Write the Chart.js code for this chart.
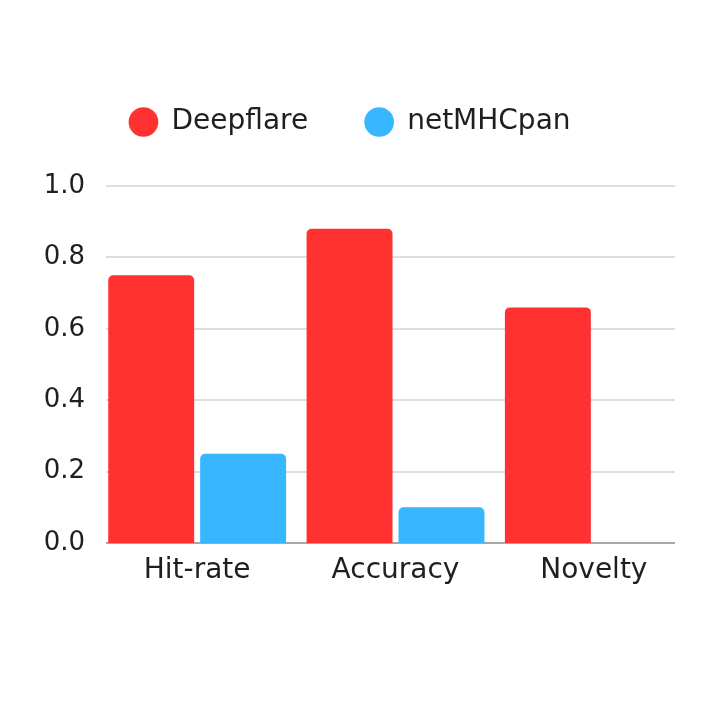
<!DOCTYPE html>
<html>
<head>
<meta charset="utf-8">
<script src="https://cdn.jsdelivr.net/npm/chart.js@4/dist/chart.umd.min.js"></script>
<style>
html,body{margin:0;padding:0;background:#fff;}
#wrap{width:716px;height:716px;}
</style>
</head>
<body>
<div id="wrap"><canvas id="c" width="716" height="716"></canvas></div>
<script>
const categories = ["Hit-rate", "Accuracy", "Novelty"];
const seriesNames = ["Deepflare", "netMHCpan"];
const deepflareValues = [0.75, 0.88, 0.66];
const netmhcpanValues = [0.25, 0.10, 0];
const yTicks = [0, 0.2, 0.4, 0.6, 0.8, 1.0];

const FONT = "'DejaVu Sans', sans-serif";
const TEXT = "#1f1f1f";

const gridPlugin = {
  id: 'customGrid',
  beforeDatasetsDraw(chart) {
    const ctx = chart.ctx, y = chart.scales.y, a = chart.chartArea;
    const x0 = a.left + 8, x1 = a.right - 18;
    ctx.save();
    y.ticks.forEach(t => {
      const py = Math.round(y.getPixelForValue(t.value));
      ctx.beginPath();
      ctx.lineWidth = 2;
      ctx.strokeStyle = t.value === 0 ? '#a8a8a8' : '#dedede';
      ctx.moveTo(x0, py);
      ctx.lineTo(x1, py);
      ctx.stroke();
    });
    ctx.restore();
  }
};

const legendMargin = {
  id: 'legendMargin',
  beforeInit(chart) {
    const origFit = chart.legend.fit;
    chart.legend.fit = function () {
      origFit.bind(chart.legend)();
      this.height = 135;
    };
  }
};

new Chart(document.getElementById('c'), {
  type: 'bar',
  data: {
    labels: categories,
    datasets: [
      { label: seriesNames[0], data: deepflareValues, backgroundColor: '#ff3131', borderRadius: 5, borderSkipped: 'start' },
      { label: seriesNames[1], data: netmhcpanValues, backgroundColor: '#38b6ff', borderRadius: 5, borderSkipped: 'start' }
    ]
  },
  options: {
    responsive: false,
    animation: false,
    devicePixelRatio: 1,
    layout: { padding: { top: 51, right: 23, bottom: 113, left: 7 } },
    categoryPercentage: 0.927,
    barPercentage: 0.935,
    plugins: {
      legend: {
        position: 'top',
        labels: {
          usePointStyle: true,
          pointStyle: 'circle',
          boxWidth: 28,
          boxHeight: 21,
          padding: 57,
          color: TEXT,
          font: { family: FONT, size: 28 }
        }
      },
      tooltip: { enabled: false }
    },
    scales: {
      x: {
        afterFit(scale) { scale.height = 60; },
        grid: { display: false, drawTicks: false },
        border: { display: false },
        ticks: { color: TEXT, font: { family: FONT, size: 28 }, padding: 11 }
      },
      y: {
        min: 0,
        max: 1,
        afterFit(scale) { scale.width = 91; },
        afterBuildTicks(scale) { scale.ticks = yTicks.map(v => ({ value: v })); },
        grid: { display: false, drawTicks: false },
        border: { display: false },
        ticks: {
          color: TEXT,
          font: { family: FONT, size: 26 },
          padding: 13,
          callback: v => Number(v).toFixed(1)
        }
      }
    }
  },
  plugins: [gridPlugin, legendMargin]
});
</script>
</body>
</html>
